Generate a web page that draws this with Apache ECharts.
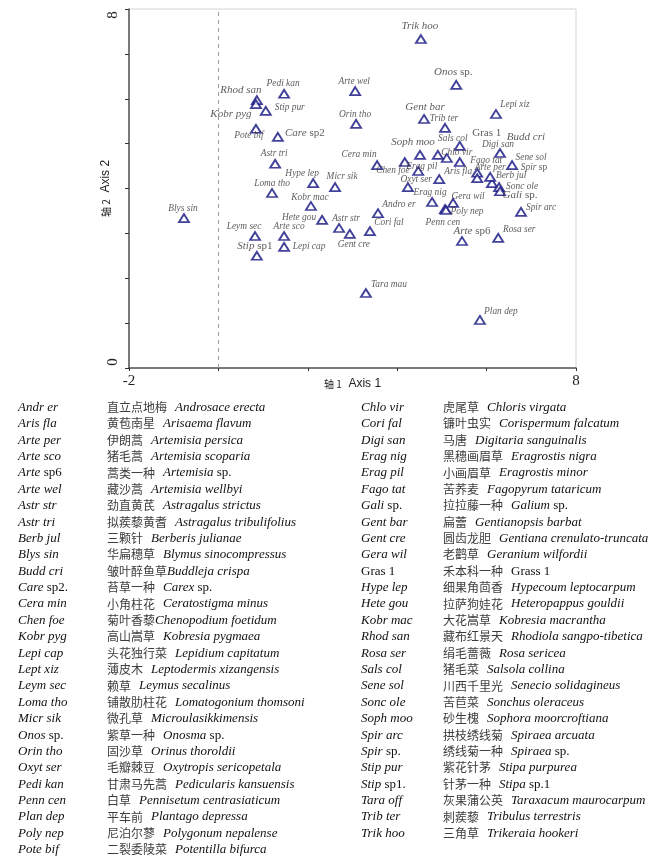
<!DOCTYPE html>
<html>
<head>
<meta charset="utf-8">
<script src="https://cdn.jsdelivr.net/npm/echarts@6/dist/echarts.min.js"></script>
<style>
html,body{margin:0;padding:0;background:#fff;}
#chart{width:668px;height:863px;}
</style>
</head>
<body>
<div id="chart"></div>
<script>
// ---- Species ordination scores (Axis 1, Axis 2) ----
const speciesCodes = ["Trik hoo","Onos sp.","Rhod san","Pedi kan","Arte wel","Stip pur","Kobr pyg","Orin tho","Gent bar","Lepi xiz","Trib ter","Pote bif","Care sp2","Gras 1","Budd cri","Soph moo","Sals col","Digi san","Cera min","Chlo vir","Astr tri","Erag pil","Fago tat","Sene sol","Chen foe","Aris fla","Arte per","Spir sp","Hype lep","Berb jul","Loma tho","Micr sik","Oxyt ser","Sonc ole","Erag nig","Gali sp.","Kobr mac","Gera wil","Andro er","Poly nep","Spir arc","Hete gou","Astr str","Penn cen","Leym sec","Arte sco","Cori fal","Arte sp6","Rosa ser","Gent cre","Stip sp1","Lepi cap","Blys sin","Tara mau","Plan dep"];
const axis1Scores = [4.53,5.32,0.86,1.47,3.06,1.06,0.84,3.08,4.60,6.21,5.07,0.84,1.33,5.40,4.91,4.51,5.40,6.30,3.55,5.11,1.27,4.17,5.79,6.57,4.24,4.94,5.79,6.12,2.12,6.08,1.20,2.61,4.47,6.28,4.78,6.30,2.07,5.25,3.57,5.07,6.77,2.32,2.70,5.09,0.82,1.47,3.39,5.45,6.26,2.94,0.86,1.47,-0.77,3.30,5.85];
const axis2Scores = [7.33,6.31,5.97,6.11,6.17,5.73,5.88,5.44,5.55,5.66,5.35,5.33,5.15,4.59,4.75,4.75,4.95,4.79,4.52,4.68,4.55,4.59,4.35,4.52,4.03,4.21,4.23,4.12,4.12,4.26,3.90,4.03,4.39,4.03,3.70,3.94,3.61,3.68,3.45,3.54,3.48,3.30,3.12,3.52,2.94,2.94,3.05,2.83,2.90,2.99,2.50,2.70,3.34,1.67,1.07];

// axis ticks labels
const xTickLabels = {"-2":"-2","8":"8"};
const yTickLabels = {"0":"0","8":"8"};

// ---- Legend table ----
const leftCodes = ["Andr er","Aris fla","Arte per","Arte sco","Arte sp6","Arte wel","Astr str","Astr tri","Berb jul","Blys sin","Budd cri","Care sp2.","Cera min","Chen foe","Kobr pyg","Lepi cap","Lept xiz","Leym sec","Loma tho","Micr sik","Onos sp.","Orin tho","Oxyt ser","Pedi kan","Penn cen","Plan dep","Poly nep","Pote bif"];
const leftChinese = ["直立点地梅","黄苞南星","伊朗蒿","猪毛蒿","蒿类一种","藏沙蒿","劲直黄芪","拟蒺藜黄耆","三颗针","华扁穗草","皱叶醉鱼草","苔草一种","小角柱花","菊叶香藜","高山嵩草","头花独行菜","薄皮木","赖草","铺散肋柱花","微孔草","紫草一种","固沙草","毛瓣棘豆","甘肃马先蒿","白草","平车前","尼泊尔蓼","二裂委陵菜"];
const leftLatin = ["Androsace erecta","Arisaema flavum","Artemisia persica","Artemisia scoparia","Artemisia sp.","Artemisia wellbyi","Astragalus strictus","Astragalus tribulifolius","Berberis julianae","Blymus sinocompressus","Buddleja crispa","Carex sp.","Ceratostigma minus","Chenopodium foetidum","Kobresia pygmaea","Lepidium capitatum","Leptodermis xizangensis","Leymus secalinus","Lomatogonium thomsoni","Microulasikkimensis","Onosma sp.","Orinus thoroldii","Oxytropis sericopetala","Pedicularis kansuensis","Pennisetum centrasiaticum","Plantago depressa","Polygonum nepalense","Potentilla bifurca"];
const rightCodes = ["Chlo vir","Cori fal","Digi san","Erag nig","Erag pil","Fago tat","Gali sp.","Gent bar","Gent cre","Gera wil","Gras 1","Hype lep","Hete gou","Kobr mac","Rhod san","Rosa ser","Sals col","Sene sol","Sonc ole","Soph moo","Spir arc","Spir sp.","Stip pur","Stip sp1.","Tara off","Trib ter","Trik hoo"];
const rightChinese = ["虎尾草","镰叶虫实","马唐","黑穗画眉草","小画眉草","苦荞麦","拉拉藤一种","扁蕾","圆齿龙胆","老鹳草","禾本科一种","细果角茴香","拉萨狗娃花","大花嵩草","藏布红景天","绢毛蔷薇","猪毛菜","川西千里光","苦苣菜","砂生槐","拱枝绣线菊","绣线菊一种","紫花针茅","针茅一种","灰果蒲公英","刺蒺藜","三角草"];
const rightLatin = ["Chloris virgata","Corispermum falcatum","Digitaria sanguinalis","Eragrostis nigra","Eragrostis minor","Fagopyrum tataricum","Galium sp.","Gentianopsis barbat","Gentiana crenulato-truncata","Geranium wilfordii","Grass 1","Hypecoum leptocarpum","Heteropappus gouldii","Kobresia macrantha","Rhodiola sangpo-tibetica","Rosa sericea","Salsola collina","Senecio solidagineus","Sonchus oleraceus","Sophora moorcroftiana","Spiraea arcuata","Spiraea sp.","Stipa purpurea","Stipa sp.1","Taraxacum maurocarpum","Tribulus terrestris","Trikeraia hookeri"];

// ---- Label placement (styling, pixels relative to marker centre) ----
const labelOffsets = {
 "Trik hoo":[0,-12],"Onos sp.":[-2,-12],"Rhod san":[-15,-9],"Pedi kan":[0,-9],"Arte wel":[0,-9],
 "Stip pur":[25,-3],"Kobr pyg":[-24,11],"Orin tho":[0,-9],"Gent bar":[2,-11],"Lepi xiz":[20,-9],
 "Trib ter":[0,-9],"Pote bif":[-6,8],"Care sp2":[28,-3],"Gras 1":[28,-28],"Budd cri":[89,-17],
 "Soph moo":[-6,-12],"Sals col":[-6,-7],"Digi san":[-1,-8],"Cera min":[-17,-10],"Chlo vir":[11,-5],
 "Astr tri":[0,-9],"Erag pil":[18,5],"Fago tat":[10,-11],"Sene sol":[20,-7],"Chen foe":[-14,-16],
 "Aris fla":[20,-7],"Arte per":[14,-10],"Spir sp":[43,-15],"Hype lep":[-10,-9],"Berb jul":[22,0],
 "Loma tho":[1,-9],"Micr sik":[8,-10],"Oxyt ser":[-1,9],"Sonc ole":[24,0],"Erag nig":[-1,-9],
 "Gali sp.":[21,5],"Kobr mac":[0,-8],"Gera wil":[16,-6],"Andro er":[22,-8],"Poly nep":[23,3],
 "Spir arc":[21,-3],"Hete gou":[-22,-2],"Astr str":[8,-9],"Penn cen":[-2,13],"Leym sec":[-10,-9],
 "Arte sco":[6,-9],"Cori fal":[20,-8],"Arte sp6":[11,-9],"Rosa ser":[22,-8],"Gent cre":[5,12],
 "Stip sp1":[-1,-9],"Lepi cap":[26,1],"Blys sin":[0,-9],"Tara mau":[24,-8],"Plan dep":[22,-8]
};
const bigLabels = ["Rhod san","Kobr pyg","Gent bar","Soph moo","Budd cri","Care sp2","Gras 1","Gali sp.","Onos sp.","Stip sp1","Arte sp6","Trik hoo"];
const SYM_W = 10, SYM_H = 8;

const SERIF = "'Liberation Serif','Times New Roman',serif";
const CJK = "'Noto Sans CJK SC','Noto Sans CJK JP',sans-serif";
const SANS = "'Liberation Sans',Arial,sans-serif";

function richName(n){
  if (n === 'Gras 1') return '{n|' + n + '}';
  const m = n.match(/^(\S+) (sp.*)$/);
  if (m) return '{i|' + m[1] + '} {n|' + m[2] + '}';
  return '{i|' + n + '}';
}

const points = speciesCodes.map((n, k) => {
  const off = labelOffsets[n] || [0,-9];
  return {
    name: n,
    value: [axis1Scores[k], axis2Scores[k]],
    label: {
      position: [SYM_W/2 + off[0], SYM_H/2 + off[1]],
      align: 'center', verticalAlign: 'middle',
      fontSize: bigLabels.indexOf(n) >= 0 ? 11 : 9.4
    }
  };
});

// legend table graphics
const graphics = [];
const rowStep = 16.38;
const LFS = 13;
function addRows(codes, chn, lat, xCode, xChn, y0){
  codes.forEach((c, k) => {
    const y = y0 + k * rowStep;
    graphics.push({type:'text', left: xCode, top: y - 8, silent:true,
      style:{text: richName(c), fontFamily: SERIF, fontSize: LFS, fill:'#111',
        rich:{i:{fontStyle:'italic', fontFamily: SERIF, fontSize:LFS, fill:'#111'}, n:{fontStyle:'normal', fontFamily: SERIF, fontSize:LFS, fill:'#111'}}}});
    const noGap = (chn[k] === '皱叶醉鱼草' || chn[k] === '菊叶香藜');
    const L = lat[k];
    let latRich;
    if (L === 'Grass 1') latRich = '{ln|' + L + '}';
    else {
      const m = L.match(/^(.*?) (sp\..*)$/);
      latRich = m ? '{li|' + m[1] + '}{ln| ' + m[2] + '}' : '{li|' + L + '}';
    }
    graphics.push({type:'text', left: xChn, top: y - 8, silent:true,
      style:{text: '{c|' + chn[k] + '}' + (noGap ? '' : '{g| }') + latRich,
        fill:'#111',
        rich:{
          c:{fontFamily: CJK, fontSize:12, fill:'#3c3c3c'},
          g:{fontFamily: SERIF, fontSize:LFS, width:8},
          li:{fontFamily: SERIF, fontStyle:'italic', fontSize:LFS, fill:'#111'},
          ln:{fontFamily: SERIF, fontStyle:'normal', fontSize:LFS, fill:'#111'}
        }}});
  });
}
addRows(leftCodes, leftChinese, leftLatin, 18, 107, 409);
addRows(rightCodes, rightChinese, rightLatin, 361, 443, 409);

const nameRich = {c:{fontFamily:CJK, fontSize:10, color:'#222'}, a:{fontFamily:SANS, fontSize:12, color:'#222'}};

const chart = echarts.init(document.getElementById('chart'), null, {renderer:'canvas'});
chart.setOption({
  backgroundColor:'#fff',
  animation:false,
  grid:{left:129, top:9, width:447, height:359, show:true, borderColor:'#d4d4d4', borderWidth:1, backgroundColor:'transparent'},
  xAxis:{
    type:'value', min:-2, max:8, interval:2,
    name:'{c|轴 1}  {a|Axis 1}', nameLocation:'middle', nameGap:10, nameMoveOverlap:false,
    nameTextStyle:{rich:nameRich},
    axisLine:{show:true, onZero:false, lineStyle:{color:'#555', width:1.5}},
    axisTick:{show:true, length:3, inside:false, lineStyle:{color:'#333', width:1}},
    axisLabel:{show:true, margin:6, fontFamily:SERIF, fontSize:15, color:'#222',
      formatter: v => (xTickLabels[String(v)] !== undefined ? xTickLabels[String(v)] : '')},
    splitLine:{show:false}
  },
  yAxis:{
    type:'value', min:0, max:8, interval:1,
    name:'{c|轴 2}  {a|Axis 2}', nameLocation:'middle', nameGap:17, nameRotate:90, nameMoveOverlap:false,
    nameTextStyle:{rich:nameRich},
    axisLine:{show:true, onZero:false, lineStyle:{color:'#555', width:1.5}},
    axisTick:{show:true, length:4, lineStyle:{color:'#333', width:1}},
    axisLabel:{show:true, rotate:90, margin:8, fontFamily:SERIF, fontSize:15, color:'#222',
      formatter: v => {
        const t = yTickLabels[String(v)];
        if (t === undefined) return '';
        return v > 0 ? '{t|' + t + '}' : '{b|' + t + '}';
      },
      rich:{
        t:{fontFamily:SERIF, fontSize:15, color:'#222', padding:[0,12,0,0]},
        b:{fontFamily:SERIF, fontSize:15, color:'#222', padding:[0,0,0,12]}
      }},
    splitLine:{show:false}
  },
  series:[{
    type:'scatter',
    symbol:'triangle',
    symbolSize:[SYM_W, SYM_H],
    itemStyle:{color:'#ffffff', borderColor:'#12127f', borderWidth:1.8},
    label:{
      show:true, formatter: p => richName(p.name),
      fontFamily:SERIF, color:'#333',
      rich:{i:{fontStyle:'italic'}, n:{fontStyle:'normal'}}
    },
    labelLayout:{hideOverlap:false},
    markLine:{
      silent:true, symbol:'none', label:{show:false},
      lineStyle:{color:'#9a9a9a', type:[4,4], width:1},
      data:[{xAxis:0}]
    },
    data: points
  }],
  graphic: graphics
});
</script>
</body>
</html>
